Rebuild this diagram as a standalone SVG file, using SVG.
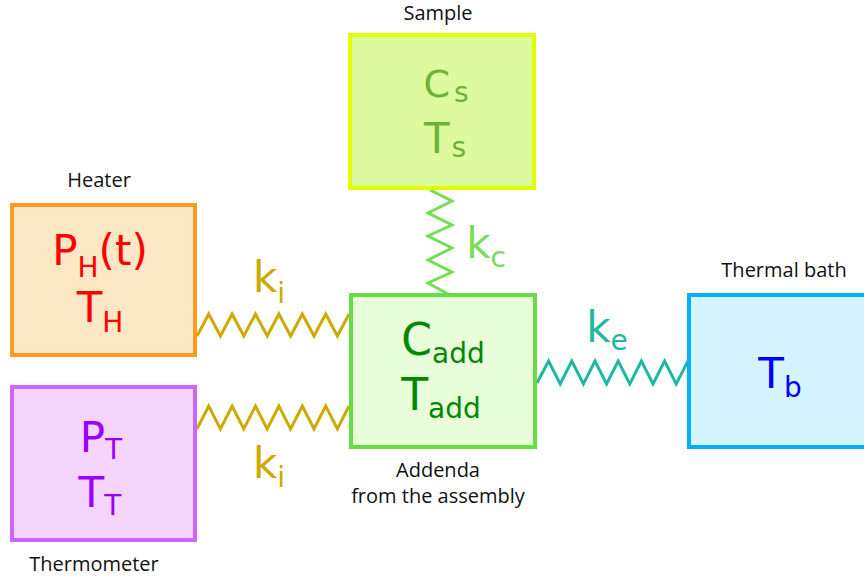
<svg xmlns="http://www.w3.org/2000/svg" width="864" height="581" viewBox="0 0 864 581">
<style>
.box{stroke-width:4}
.sym{font-family:"DejaVu Sans",Verdana,sans-serif;font-size:42px;text-anchor:middle}
.sub{font-size:28px}
.lbl{font-family:"Open Sans","Liberation Sans",sans-serif;font-size:20px;fill:#111;text-anchor:middle}
.spring{fill:none;stroke-width:3;stroke-linejoin:miter}
</style>
<rect width="864" height="581" fill="#fff"/>
<g id="connectors">
<polyline class="spring" stroke="#ccaa00" points="197,336 208.7,314 220.4,336 232.1,314 243.8,336 255.5,314 267.2,336 278.9,314 290.6,336 302.3,314 314,336 325.7,314 337.4,336 349,314"/>
<polyline class="spring" stroke="#ccaa00" points="197,429 208.7,406 220.4,429 232.1,406 243.8,429 255.5,406 267.2,429 278.9,406 290.6,429 302.3,406 314,429 325.7,406 337.4,429 349,406"/>
<polyline class="spring" stroke="#1fb89e" points="537,383 548.6,361 560.2,384 571.8,361 583.4,384 595,361 606.6,384 618.2,361 629.8,384 641.4,361 653,384 664.6,361 676.2,384 688,361"/>
<polyline class="spring" stroke="#77dd55" points="430,190 452,201 428,213 452,225 428,236 452,248 428,260 452,272 428,283 450,295"/>
<text class="sym" fill="#ccaa00" x="269" y="292">k<tspan class="sub" dy="11">i</tspan></text>
<text class="sym" fill="#ccaa00" x="269" y="478">k<tspan class="sub" dy="9">i</tspan></text>
<text class="sym" fill="#77dd55" x="486" y="258">k<tspan class="sub" dy="9">c</tspan></text>
<text class="sym" fill="#1fb89e" x="607" y="342">k<tspan class="sub" dy="8">e</tspan></text>
</g>
<g id="heater">
<rect class="box" x="12" y="205" width="183" height="150" fill="#fde8c6" stroke="#ff9a1f"/>
<text class="sym" fill="#ff0000" x="100" y="265">P<tspan class="sub" dy="12">H</tspan><tspan dy="-12">(t)</tspan></text>
<text class="sym" fill="#ff0000" x="100" y="322">T<tspan class="sub" dy="10">H</tspan></text>
<text class="lbl" x="99" y="187">Heater</text>
</g>
<g id="thermometer">
<rect class="box" x="12" y="387" width="183" height="153" fill="#f6d5fc" stroke="#cc66ff"/>
<text class="sym" fill="#9900ff" x="101" y="452">P<tspan class="sub" dy="7">T</tspan></text>
<text class="sym" fill="#9900ff" x="100" y="507">T<tspan class="sub" dy="8">T</tspan></text>
<text class="lbl" x="94" y="571">Thermometer</text>
</g>
<g id="sample">
<rect class="box" x="350" y="35" width="184" height="153" fill="#defa9f" stroke="#e2ff00"/>
<text class="sym" fill="#6db33a" x="446" y="97" style="font-size:38px">C<tspan class="sub" dx="4" dy="5">s</tspan></text>
<text class="sym" fill="#6db33a" x="445" y="153">T<tspan class="sub" dx="2" dy="4">s</tspan></text>
<text class="lbl" x="438" y="20">Sample</text>
</g>
<g id="addenda">
<rect class="box" x="351" y="295" width="184" height="152" fill="#e8fdda" stroke="#66dd44"/>
<text class="sym" fill="#008800" x="443" y="355" style="font-size:44px">C<tspan class="sub" dy="8">add</tspan></text>
<text class="sym" fill="#008800" x="441" y="410" style="font-size:44px">T<tspan class="sub" dy="8">add</tspan></text>
<text class="lbl" x="438" y="477">Addenda</text>
<text class="lbl" x="438" y="503">from the assembly</text>
</g>
<g id="thermal-bath">
<rect class="box" x="689" y="295" width="180" height="152" fill="#d5f4ff" stroke="#00b0ff"/>
<text class="sym" fill="#0000ff" x="780" y="388">T<tspan class="sub" dy="9">b</tspan></text>
<text class="lbl" x="784" y="277">Thermal bath</text>
</g>
</svg>
